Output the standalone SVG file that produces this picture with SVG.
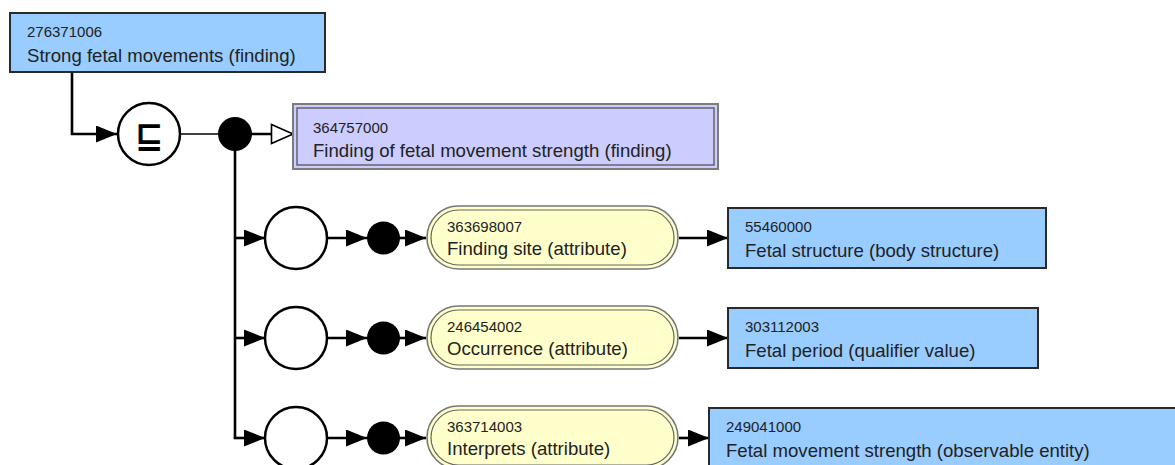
<svg xmlns="http://www.w3.org/2000/svg" width="1175" height="465" viewBox="0 0 1175 465">
  <style>
    .id { font-family: "Liberation Sans", Arial, sans-serif; font-size: 15px; fill: #222; }
    .nm { font-family: "Liberation Sans", Arial, sans-serif; font-size: 18.6px; fill: #222; }
    .concept { fill: #99ccff; stroke: #2a2a2a; stroke-width: 2; }
    .defined-outer { fill: #ccccff; stroke: #7c7c7c; stroke-width: 2; }
    .defined-inner { fill: none; stroke: #555; stroke-width: 1.3; }
    .attr-outer { fill: #ffffcc; stroke: #777; stroke-width: 1.6; }
    .attr-inner { fill: none; stroke: #666; stroke-width: 1.2; }
    .open { fill: #fff; stroke: #000; stroke-width: 2.5; }
    .conj { fill: #000; }
    .edge { fill: none; stroke: #000; stroke-width: 2.6; }
    .thin { fill: none; stroke: #000; stroke-width: 1.6; }
  </style>
  <defs>
    <marker id="arrow" markerUnits="userSpaceOnUse" markerWidth="22" markerHeight="18" refX="21" refY="8.5" orient="auto">
      <path d="M0,0 L21,8.5 L0,17 z" fill="#000"/>
    </marker>
    <marker id="isa" markerUnits="userSpaceOnUse" markerWidth="26" markerHeight="24" refX="23" refY="11" orient="auto">
      <path d="M1.5,1.5 L23,11 L1.5,20.5 z" fill="#fff" stroke="#000" stroke-width="1.6"/>
    </marker>
  </defs>

  <rect width="1175" height="465" fill="#fff"/>

  <!-- connectors -->
  <g id="connectors">
    <polyline class="edge" points="72,72 72,134 117,134" marker-end="url(#arrow)"/>
    <line class="thin" x1="180" y1="134" x2="220" y2="134"/>
    <line class="edge" x1="250" y1="134" x2="293" y2="134" marker-end="url(#isa)"/>
    <line class="edge" x1="235" y1="134" x2="235" y2="438"/>

    <!-- finding site -->
    <line class="edge" x1="235" y1="238" x2="265" y2="238" marker-end="url(#arrow)"/>
    <line class="edge" x1="327" y1="238" x2="367" y2="238" marker-end="url(#arrow)"/>
    <line class="edge" x1="398" y1="238" x2="426" y2="238" marker-end="url(#arrow)"/>
    <line class="edge" x1="679" y1="238" x2="728" y2="238" marker-end="url(#arrow)"/>

    <!-- occurrence -->
    <line class="edge" x1="235" y1="338" x2="265" y2="338" marker-end="url(#arrow)"/>
    <line class="edge" x1="327" y1="338" x2="367" y2="338" marker-end="url(#arrow)"/>
    <line class="edge" x1="398" y1="338" x2="426" y2="338" marker-end="url(#arrow)"/>
    <line class="edge" x1="679" y1="338" x2="728" y2="338" marker-end="url(#arrow)"/>

    <!-- interprets -->
    <line class="edge" x1="233.7" y1="438" x2="265" y2="438" marker-end="url(#arrow)"/>
    <line class="edge" x1="327" y1="438" x2="367" y2="438" marker-end="url(#arrow)"/>
    <line class="edge" x1="398" y1="438" x2="426" y2="438" marker-end="url(#arrow)"/>
    <line class="edge" x1="679" y1="438" x2="709" y2="438" marker-end="url(#arrow)"/>
  </g>

  <!-- focus concept -->
  <g id="concept-276371006">
    <rect class="concept" x="10" y="13" width="315" height="59"/>
    <text class="id" x="27" y="37">276371006</text>
    <text class="nm" x="27" y="62">Strong fetal movements (finding)</text>
  </g>

  <!-- subsumed-by operator -->
  <g id="subsumed-by">
    <circle class="open" cx="149" cy="134" r="31"/>
    <text x="149" y="147" text-anchor="middle" font-family="DejaVu Sans, sans-serif" font-weight="bold" font-size="34" fill="#000">⊑</text>
  </g>

  <g id="conjunction-0">
    <circle class="conj" cx="235" cy="134" r="17"/>
  </g>

  <!-- parent concept -->
  <g id="concept-364757000">
    <rect class="defined-outer" x="293" y="104" width="425" height="65"/>
    <rect class="defined-inner" x="297" y="108" width="417" height="57"/>
    <text class="id" x="313" y="133">364757000</text>
    <text class="nm" x="313" y="157">Finding of fetal movement strength (finding)</text>
  </g>

  <!-- role groups -->
  <g id="group-1">
    <circle class="open" cx="296" cy="238" r="31"/>
    <circle class="conj" cx="383.5" cy="238" r="16.5"/>
  </g>
  <g id="group-2">
    <circle class="open" cx="296" cy="338" r="31"/>
    <circle class="conj" cx="383.5" cy="338" r="16.5"/>
  </g>
  <g id="group-3">
    <circle class="open" cx="296" cy="438" r="31"/>
    <circle class="conj" cx="383.5" cy="438" r="16.5"/>
  </g>

  <!-- attributes -->
  <g id="attribute-363698007">
    <rect class="attr-outer" x="427" y="206" width="251" height="63" rx="31.5"/>
    <rect class="attr-inner" x="431" y="210" width="243" height="55" rx="27.5"/>
    <text class="id" x="447" y="232">363698007</text>
    <text class="nm" x="447" y="255">Finding site (attribute)</text>
  </g>
  <g id="attribute-246454002">
    <rect class="attr-outer" x="427" y="306" width="251" height="63" rx="31.5"/>
    <rect class="attr-inner" x="431" y="310" width="243" height="55" rx="27.5"/>
    <text class="id" x="447" y="332">246454002</text>
    <text class="nm" x="447" y="355">Occurrence (attribute)</text>
  </g>
  <g id="attribute-363714003">
    <rect class="attr-outer" x="427" y="406" width="251" height="63" rx="31.5"/>
    <rect class="attr-inner" x="431" y="410" width="243" height="55" rx="27.5"/>
    <text class="id" x="447" y="432">363714003</text>
    <text class="nm" x="447" y="455">Interprets (attribute)</text>
  </g>

  <!-- attribute values -->
  <g id="concept-55460000">
    <rect class="concept" x="728" y="208" width="318" height="60"/>
    <text class="id" x="745" y="232">55460000</text>
    <text class="nm" x="745" y="257">Fetal structure (body structure)</text>
  </g>
  <g id="concept-303112003">
    <rect class="concept" x="728" y="308" width="310" height="60"/>
    <text class="id" x="745" y="332">303112003</text>
    <text class="nm" x="745" y="357">Fetal period (qualifier value)</text>
  </g>
  <g id="concept-249041000">
    <rect class="concept" x="709" y="408" width="480" height="70"/>
    <text class="id" x="726" y="432">249041000</text>
    <text class="nm" x="726" y="457">Fetal movement strength (observable entity)</text>
  </g>
</svg>
